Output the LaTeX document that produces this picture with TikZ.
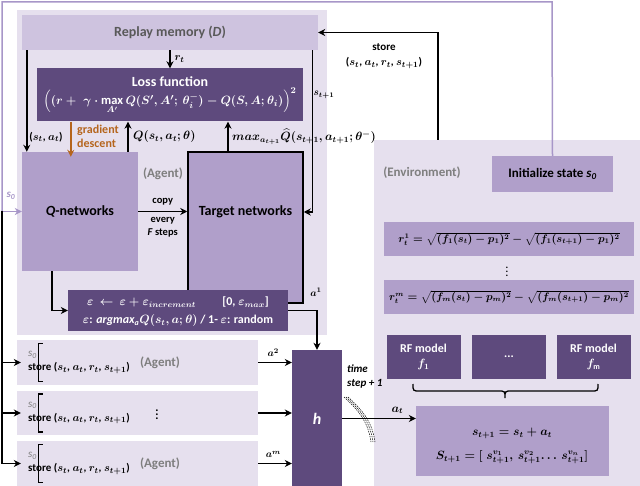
\documentclass[tikz,border=0pt]{standalone}
\usepackage{amsmath,amssymb}
\usepackage{fontspec}
\setmainfont{Carlito}
\usetikzlibrary{arrows.meta,calc}
\definecolor{dpurple}{HTML}{5E4A7D}
\definecolor{mpurple}{HTML}{B09FCA}
\definecolor{lpanel}{HTML}{E6E0EE}
\definecolor{rpurple}{HTML}{CEC3DF}
\definecolor{lline}{HTML}{A796C8}
\definecolor{gorange}{HTML}{B5651D}
\definecolor{gtext}{HTML}{7F7F7F}
\definecolor{dgtext}{HTML}{595959}
\begin{document}
\boldmath
\begin{tikzpicture}[x=1pt,y=-1pt,
  every node/.style={font=\fontsize{11}{13}\selectfont\bfseries, inner sep=0pt},
  panel/.style={fill=lpanel, draw=none},
  mbox/.style={fill=mpurple, draw=none, align=center},
  dbox/.style={fill=dpurple, draw=none, text=white, align=center},
  arr/.style={-{Stealth[length=7pt,width=7pt]}, line width=1.4pt},
  plain/.style={line width=1.4pt},
  lbl/.style={font=\fontsize{11}{13}\selectfont\bfseries},
]
\useasboundingbox (0,0) rectangle (640,486);
% panels
\node[panel, minimum width=310pt, minimum height=325pt] (agentpanel) at (172,172.5) {};
\node[panel, minimum width=266pt, minimum height=346pt] (envpanel) at (507,313) {};
% agent boxes
\node[panel, minimum width=241pt, minimum height=45pt] (ag1) at (137.5,362.5) {};
\node[panel, minimum width=241pt, minimum height=44pt] (ag2) at (137.5,413) {};
\node[panel, minimum width=241pt, minimum height=45pt] (ag3) at (137.5,463.5) {};
% agent panel contents
\node[fill=rpurple, minimum width=296pt, minimum height=35pt, text=dgtext, font=\fontsize{14}{16}\selectfont\bfseries] (replay) at (170,32.5) {Replay memory (\textit{D})};
\node[dbox, minimum width=266pt, minimum height=53pt] (loss) at (170,95) {};
\node[text=white, font=\fontsize{14}{16}\selectfont\bfseries] (losst) at (170,82) {Loss function};
\node[text=white, font=\fontsize{12.5}{15}\selectfont\bfseries] (lossf) at (170,101) {$\Big((r+\;\gamma\cdot\max\limits_{A'}Q(S',A';\,\theta^-_{i})-Q(S,A;\theta_{i})\Big)^2$};
\node[mbox, minimum width=116pt, minimum height=119pt, font=\fontsize{14}{16}\selectfont\bfseries] (Q) at (80,211.5) {\textit{Q}-networks};
\node[mbox, draw=black, line width=1.5pt, minimum width=115pt, minimum height=151pt] (T) at (245.5,227.5) {};
\node[font=\fontsize{14}{16}\selectfont\bfseries] (Tt) at (245.5,212) {Target networks};
\node[text=gtext, font=\fontsize{13}{15}\selectfont\bfseries] (agentlbl) at (163,174) {(Agent)};
\node[dbox, minimum width=220pt, minimum height=41pt] (eps) at (178,310.5) {};
\node[text=white, font=\fontsize{12}{14}\selectfont\bfseries] (eps1) at (178,302) {$\varepsilon\,\boldsymbol{\leftarrow}\,\varepsilon+\varepsilon_{increment}$\hspace{2.2em}[0, $\varepsilon_{max}$]};
\node[text=white, font=\fontsize{12}{14}\selectfont\bfseries] (eps2) at (178,321) {$\varepsilon$: \textit{argmax\textsubscript{a}}$Q(s_t,a;\theta)$ / 1- $\varepsilon$: random};
% environment contents
\node[text=gtext, font=\fontsize{13}{15}\selectfont\bfseries] (envlbl) at (422,173) {(Environment)};
\node[mbox, minimum width=121pt, minimum height=36pt, font=\fontsize{13}{15}\selectfont\bfseries] (init) at (552.5,174) {Initialize state \textit{s\textsubscript{0}}};
\node[mbox, minimum width=250pt, minimum height=34pt, font=\fontsize{10.5}{13}\selectfont\bfseries] (r1) at (509,239) {$r_t^1=\sqrt{(f_1(s_t)-p_1)^2}-\sqrt{(f_1(s_{t+1})-p_1)^2}$};
\node[font=\fontsize{10}{11}\selectfont\bfseries] (vd) at (507,269) {$\vdots$};
\node[mbox, minimum width=250pt, minimum height=34pt, font=\fontsize{10.5}{13}\selectfont\bfseries] (rm) at (509,297) {$r_t^m=\sqrt{(f_m(s_t)-p_m)^2}-\sqrt{(f_m(s_{t+1})-p_m)^2}$};
\node[dbox, minimum width=74pt, minimum height=44pt, font=\fontsize{12}{15}\selectfont\bfseries] (rf1) at (423.5,357) {RF model\\$f_1$};
\node[dbox, minimum width=74pt, minimum height=44pt, font=\fontsize{12}{15}\selectfont\bfseries] (rf2) at (509,357) {...};
\node[dbox, minimum width=74pt, minimum height=44pt, font=\fontsize{12}{15}\selectfont\bfseries] (rf3) at (593.5,357) {RF model\\$f_{\mathrm{m}}$};
\node[mbox, minimum width=193pt, minimum height=70pt] (S) at (512.5,440.5) {};
\node[font=\fontsize{12}{14}\selectfont\bfseries] (S1) at (512,433) {$s_{t+1}=s_t+a_t$};
\node[font=\fontsize{12}{14}\selectfont\bfseries] (S2) at (512,457) {$S_{t+1}=[\;s^{v_1}_{t+1},\,s^{v_2}_{t+1}\!\dots\,s^{v_n}_{t+1}]$};
% h
\node[dbox, minimum width=50pt, minimum height=137pt, font=\fontsize{16}{18}\selectfont\bfseries] (h) at (317,418.5) {\textit{h}};
% agent box texts
\foreach \n/\y in {ag1/362.5, ag2/413, ag3/463.5} {
  \node[anchor=west, align=left, font=\fontsize{11}{13}\selectfont\bfseries] (\n t) at (28,\y) {{\color{gtext}\mdseries\textit{s\textsubscript{0}}}\\[1pt]store ($s_t$, $a_t$, $r_t$, $s_{t+1}$)};
  \draw[line width=1.2pt] ([xshift=26pt,yshift=-19pt]\n.west) -- ([xshift=22pt,yshift=-19pt]\n.west) -- ([xshift=22pt,yshift=19pt]\n.west) -- ([xshift=26pt,yshift=19pt]\n.west);
}
\node[text=gtext, font=\fontsize{13}{15}\selectfont\bfseries] (ag1l) at (160,363) {(Agent)};
\node[font=\fontsize{12}{13}\selectfont\bfseries] (ag2l) at (157,412) {$\vdots$};
\node[text=gtext, font=\fontsize{13}{15}\selectfont\bfseries] (ag3l) at (160,464) {(Agent)};
% connectors in agent panel
\draw[arr] (replay.south) -- node[right=4pt, lbl]{$r_t$} (loss.north);
\draw[arr] ([xshift=5pt]replay.south west) -- ([xshift=5pt]Q.north west);
\node[lbl] (stat) at (46,137) {($s_t$, $a_t$)};
\draw[-{Stealth[length=7pt,width=7pt]}, line width=1.4pt, gorange] ([xshift=34pt]loss.south west) -- ([xshift=49pt,yshift=-5pt]Q.north west);
\node[anchor=west, align=left, text=gorange, font=\fontsize{12}{14}\selectfont\bfseries] (gd) at (77,136) {gradient\\descent};
\draw[arr] ([xshift=48pt]Q.north) -- ([xshift=48pt]Q.north |- loss.south);
\node[anchor=west, font=\fontsize{12}{14}\selectfont\bfseries] (qlbl) at (133,137) {$Q(s_t,a_t;\theta)$};
\draw[arr] ([xshift=-17.5pt]T.north) -- ([xshift=-17.5pt]T.north |- loss.south);
\node[anchor=west, font=\fontsize{12}{14}\selectfont\bfseries] (mlbl) at (232,137) {$max_{a_{t+1}}\widehat{Q}(s_{t+1},a_{t+1};\theta^-)$};
\draw[arr] ([xshift=-6pt]replay.south east) |- (T.east |- Tt);
\node[font=\fontsize{10}{12}\selectfont\bfseries] (st1) at (324,95) {$s_{t+1}$};
\draw[arr] (Q.east) -- node[above=6pt, font=\fontsize{10.5}{12}\selectfont\bfseries]{copy} node[below=5pt, align=center, font=\fontsize{10.5}{13}\selectfont\bfseries]{every\\\textit{F} steps} (T.west |- Q.east);
\draw[arr] ([xshift=-28pt]Q.south) |- (eps.west);
\coordinate (a1c) at (317,310.5);
\draw[plain] (eps.east) -- (a1c);
\draw[arr] (a1c) -- (h.north);
\node[font=\fontsize{10}{12}\selectfont\bfseries] (a1l) at (316,292) {$a^1$};
% store arrow
\coordinate (stc) at (438,32.5);
\draw[plain] (envpanel.north -| stc) -- (stc);
\draw[arr] (stc) -- (replay.east);
\node[font=\fontsize{11}{13}\selectfont\bfseries] (storel) at (384,47) {store};
\node[font=\fontsize{11}{13}\selectfont\bfseries] (storel2) at (384,63) {($s_t$, $a_t$, $r_t$, $s_{t+1}$)};
% light purple loop
\coordinate (lc1) at (552,2);
\coordinate (lc2) at (2,2);
\coordinate (lc3) at (2,211.5);
\draw[line width=1.5pt, lline] (init.north) -- (lc1) -- (lc2) -- (lc3);
\draw[-{Stealth[length=7pt,width=7pt]}, line width=1.5pt, lline] (lc3) -- (Q.west);
\node[text=lline, font=\fontsize{11}{13}\selectfont\bfseries] (s0l) at (11,196) {\textit{s\textsubscript{0}}};
% black left line
\coordinate (bl) at (2,464);
\draw[plain] (lc3) -- (bl);
\foreach \n in {ag1, ag2, ag3} {
  \draw[arr] (lc3 |- \n.west) -- ([xshift=4pt]\n.west);
}
% agents to h
\draw[arr] (ag1.east) -- node[above=5pt, pos=0.45, font=\fontsize{10}{12}\selectfont\bfseries]{$a^2$} (h.west |- ag1.east);
\draw[arr] (ag2.east) -- (h.west |- ag2.east);
\draw[arr] (ag3.east) -- node[above=5pt, pos=0.45, font=\fontsize{10}{12}\selectfont\bfseries]{$a^m$} (h.west |- ag3.east);
% h to S
\draw[arr] (h.east) -- node[above=4pt, pos=0.75, font=\fontsize{12}{14}\selectfont\bfseries]{$a_t$} (S.west |- h.east);
\node[anchor=west, align=left, font=\fontsize{11}{14}\selectfont\bfseries\itshape] (tsl) at (347,377) {time\\step + 1};
\foreach \d in {0,2,4} {
  \draw[line width=0.5pt, dash pattern=on 1.5pt off 1pt] (344+\d,397) .. controls (356+\d,408) and (368+\d,420) .. (371+\d,442);
}
% brace
\draw[line width=1.3pt] (413,384) .. controls (413,391) .. (420,391) -- (498,391) .. controls (505,391) .. (505,398) .. controls (505,391) .. (512,391) -- (591,391) .. controls (598,391) .. (598,384);
\end{tikzpicture}
\end{document}
